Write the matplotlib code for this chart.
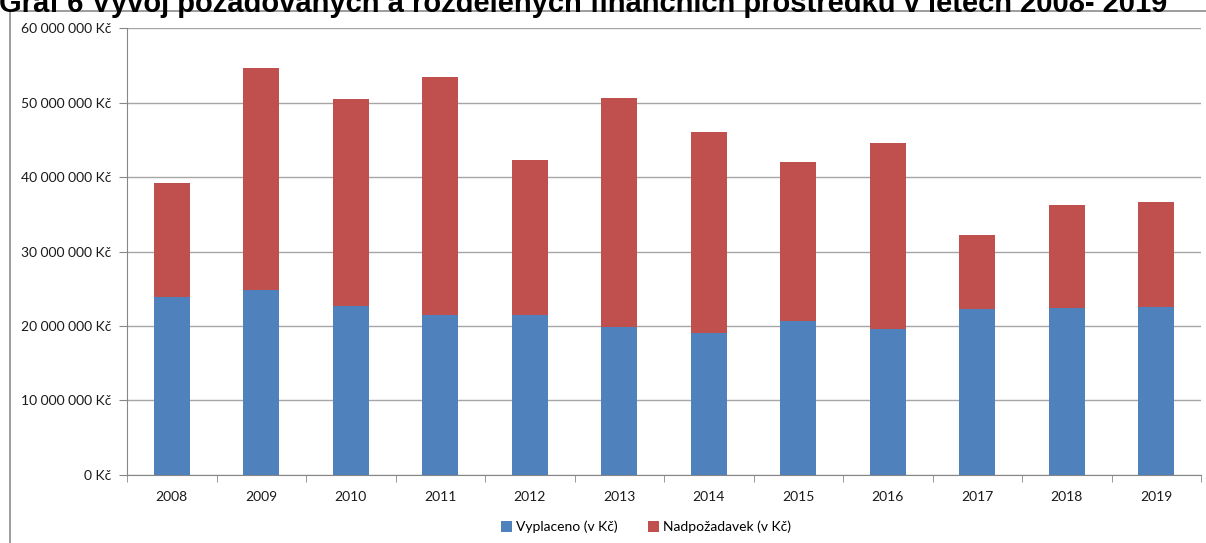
import numpy as np
import matplotlib
matplotlib.use("Agg")
import matplotlib.pyplot as plt
from matplotlib.patches import Rectangle
from matplotlib.ticker import FuncFormatter

years = ["2008", "2009", "2010", "2011", "2012", "2013",
         "2014", "2015", "2016", "2017", "2018", "2019"]
# total requested amount (top of stack) and amount paid out, in Kč
totals = [39.2e6, 54.7e6, 50.5e6, 53.4e6, 42.3e6, 50.7e6,
          46.1e6, 42.1e6, 44.6e6, 32.2e6, 36.2e6, 36.7e6]
vyplaceno = [23.9e6, 24.8e6, 22.7e6, 21.5e6, 21.5e6, 19.9e6,
             19.1e6, 20.7e6, 19.6e6, 22.3e6, 22.4e6, 22.5e6]
nadpozadavek = [t - v for t, v in zip(totals, vyplaceno)]

title = "Graf 6 Vývoj požadovaných a rozdělených finančních prostředků v letech 2008- 2019"

blue = "#4F81BD"
red = "#C0504D"
grid_col = "#A6A6A6"
axis_col = "#868686"
font = ["Lato", "DejaVu Sans"]

fig = plt.figure(figsize=(12.06, 5.43), dpi=100)
ax = fig.add_axes([127 / 1206, 1 - 474.8 / 543, 1074 / 1206, (474.8 - 28.3) / 543])

# outer chart frame (runs off the right and bottom edges)
fig.patches.append(Rectangle((10 / 1206, -0.1), 1.2, 1 - 11 / 543 + 0.1,
                             transform=fig.transFigure, fill=False,
                             edgecolor="#8C8C8C", lw=1.2))

x = np.arange(len(years))
ax.bar(x, vyplaceno, width=0.4, color=blue, label="Vyplaceno (v Kč)", zorder=3)
ax.bar(x, nadpozadavek, width=0.4, bottom=vyplaceno, color=red,
       label="Nadpožadavek (v Kč)", zorder=3)

ax.set_xlim(-0.5, len(years) - 0.5)
ax.set_ylim(0, 60e6)
ax.set_yticks(np.arange(0, 60e6 + 1, 10e6))
ax.yaxis.set_major_formatter(FuncFormatter(
    lambda v, p: "{:,.0f} Kč".format(v).replace(",", " ")))
ax.set_xticks(x)
ax.set_xticklabels(years)
ax.set_xticks(np.arange(-0.5, len(years), 1), minor=True)
ax.tick_params(axis="x", which="major", length=0, pad=12)
ax.tick_params(axis="x", which="minor", length=5, color=axis_col)
ax.tick_params(axis="y", length=6, color=axis_col, pad=5)
for lbl in ax.get_xticklabels() + ax.get_yticklabels():
    lbl.set_family(font)
    lbl.set_fontsize(10)
    lbl.set_color("#1a1a1a")

ax.grid(axis="y", color=grid_col, lw=1, zorder=0)
for side in ["top", "right"]:
    ax.spines[side].set_visible(False)
for side in ["left", "bottom"]:
    ax.spines[side].set_color(axis_col)

leg = fig.legend(loc="center", bbox_to_anchor=(646 / 1206, 1 - 527 / 543),
                 ncol=2, frameon=False, prop={"family": font, "size": 10},
                 handlelength=0.8, handleheight=0.8, handletextpad=0.3,
                 columnspacing=2.2)

fig.text(-0.001, 1 - 12 / 543, title, fontsize=21, fontweight="bold",
         family=["Liberation Sans", "DejaVu Sans"], ha="left", va="baseline")

fig.savefig("out.png", dpi=100)
